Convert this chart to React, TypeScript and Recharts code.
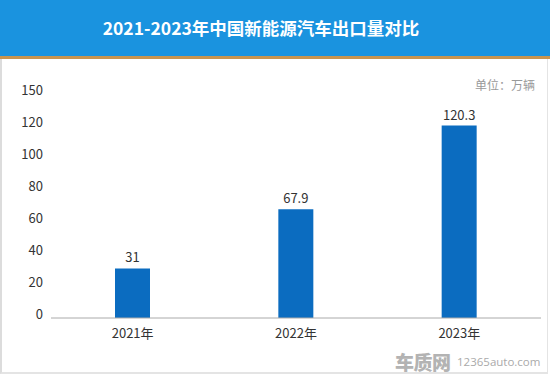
import React from "react";
import { BarChart, Bar, XAxis, YAxis, LabelList } from "recharts";

const categories = ["2021年", "2022年", "2023年"];
const exportValues = [31, 67.9, 120.3];
const yTicks = [0, 20, 40, 60, 80, 100, 120, 140];
const yTickLabels = ["0", "20", "40", "60", "80", "100", "120", "150"];
const title = "2021-2023年中国新能源汽车出口量对比";
const unitText = "单位：万辆";

const data = categories.map((c, i) => ({ name: c, value: exportValues[i] }));

const FONT = '"Noto Sans CJK SC", "Noto Sans", sans-serif';

const YTick = (props: any) => {
  const { x, y, payload } = props;
  const idx = yTicks.indexOf(payload.value);
  return (
    <text x={x} y={y - 4} dy="0.35em" textAnchor="end" fontSize={13} fill="#333" fontFamily={FONT}>
      {idx >= 0 ? yTickLabels[idx] : payload.value}
    </text>
  );
};

export default function App() {
  return (
    <div
      style={{
        position: "fixed",
        top: 0,
        left: 0,
        width: 550,
        height: 376,
        background: "#fff",
        fontFamily: FONT,
        overflow: "hidden",
      }}
    >
      <div
        style={{
          position: "absolute",
          top: 0,
          left: 0,
          width: 550,
          height: 56,
          background: "#1a93df",
          borderBottom: "3px solid #c9944e",
          color: "#fff",
          fontWeight: 700,
          fontSize: 17.5,
          lineHeight: "56px",
          textAlign: "center",
          boxSizing: "content-box",
        }}
      >
        <span style={{ position: "relative", left: -14 }}>{title}</span>
      </div>
      <div
        style={{
          position: "absolute",
          top: 59,
          left: 0,
          width: 548,
          height: 315,
          borderLeft: "2px solid #dcdcdc",
          borderBottom: "2px solid #e4e4e4",
          borderRight: "1px solid #e4e4e4",
          boxSizing: "border-box",
        }}
      />
      <div
        style={{
          position: "absolute",
          top: 76,
          right: 15,
          fontSize: 12,
          color: "#999",
        }}
      >
        {unitText}
      </div>
      <div style={{ position: "absolute", top: 0, left: 0 }}>
        <BarChart
          width={550}
          height={376}
          data={data}
          margin={{ top: 94, right: 9, bottom: 28, left: 0 }}
        >
          <XAxis
            dataKey="name"
            axisLine={{ stroke: "#aaaaaa" }}
            tickLine={false}
            height={30}
            tickMargin={5}
            tick={{ fontSize: 13, fill: "#333", fontFamily: FONT }}
          />
          <YAxis
            width={51}
            domain={[0, 140]}
            ticks={yTicks}
            axisLine={false}
            tickLine={false}
            tick={<YTick />}
            interval={0}
          />
          <Bar dataKey="value" fill="#0b6cc0" barSize={35} isAnimationActive={false}>
            <LabelList
              dataKey="value"
              position="top"
              offset={6}
              style={{ fontSize: 13, fill: "#333", fontFamily: FONT }}
            />
          </Bar>
        </BarChart>
      </div>
      <div
        style={{
          position: "absolute",
          left: 395,
          top: 351,
          lineHeight: "22px",
          fontSize: 19,
          fontWeight: 900,
          letterSpacing: -0.5,
          color: "#b3b3b3",
        }}
      >
        车质网
      </div>
      <div
        style={{
          position: "absolute",
          left: 457,
          top: 354,
          lineHeight: "16px",
          fontSize: 11.5,
          color: "#aaa",
          fontFamily: '"Open Sans", sans-serif',
          whiteSpace: "nowrap",
        }}
      >
        12365auto.com
      </div>
    </div>
  );
}
